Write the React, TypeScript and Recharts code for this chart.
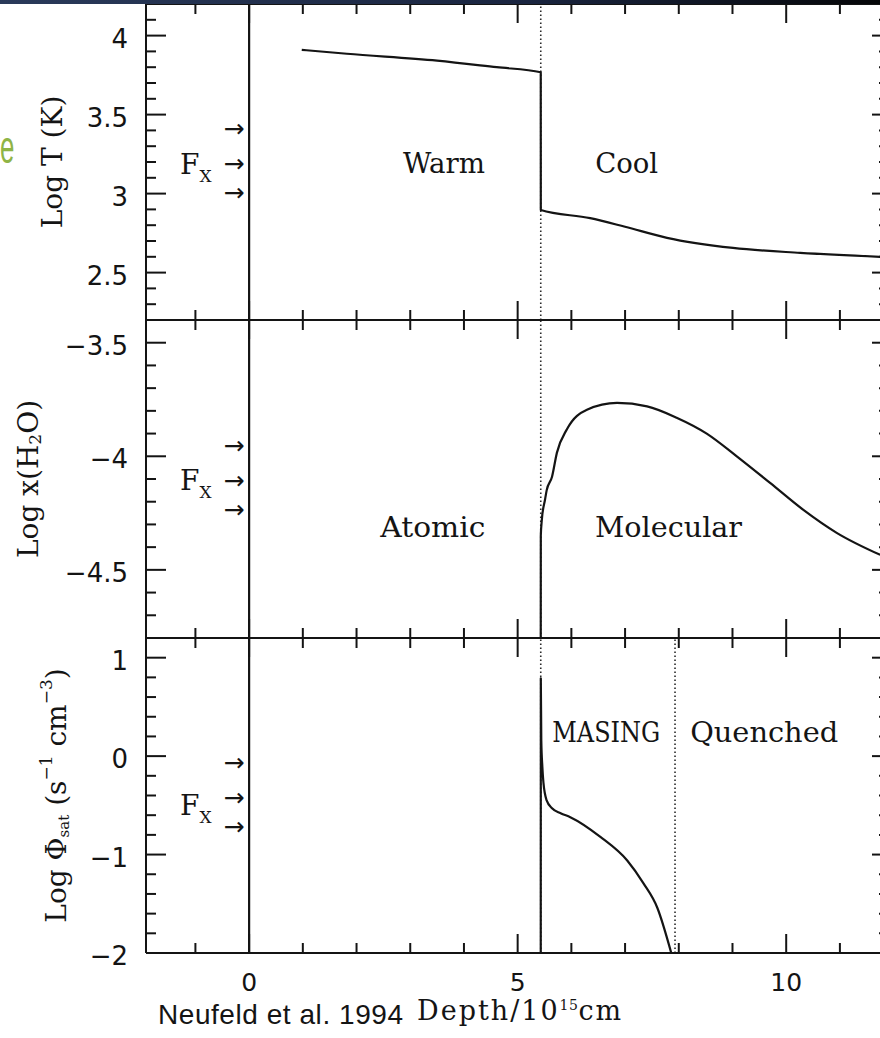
import { LineChart, Line, XAxis, YAxis, ReferenceLine, ReferenceDot } from 'recharts';

// depth axis, units of 1e15 cm
const depthTicks = [-1, 0, 1, 2, 3, 4, 5, 6, 7, 8, 9, 10, 11];
const depthMajor = [0, 5, 10];

const tempTicks = [2.3, 2.4, 2.5, 2.6, 2.7, 2.8, 2.9, 3, 3.1, 3.2, 3.3, 3.4, 3.5, 3.6, 3.7, 3.8, 3.9, 4, 4.1];
const tempMajor = [2.5, 3, 3.5, 4];
const waterTicks = [-4.7, -4.6, -4.5, -4.4, -4.3, -4.2, -4.1, -4, -3.9, -3.8, -3.7, -3.6, -3.5];
const waterMajor = [-4.5, -4, -3.5];
const phiTicks = [-2, -1.8, -1.6, -1.4, -1.2, -1, -0.8, -0.6, -0.4, -0.2, 0, 0.2, 0.4, 0.6, 0.8, 1];
const phiMajor = [-2, -1, 0, 1];

// Log T (K) -- jump at the front (5.43)
const tempDepth = [0.98, 1.82, 3.5, 4.61, 5.43, 5.431, 6.35, 7.0, 7.78, 9.01, 10.26, 11.75];
const tempLogT = [3.91, 3.885, 3.842, 3.8, 3.768, 2.896, 2.845, 2.79, 2.72, 2.656, 2.625, 2.6];

// Log x(H2O)
const waterDepth = [5.43, 5.431, 5.45, 5.51, 5.54, 5.64, 5.73, 5.92, 6.29, 6.85, 7.41, 7.96, 8.52, 9.08, 9.7, 10.32, 10.94, 11.75];
const waterLogX = [-4.8, -4.35, -4.28, -4.19, -4.15, -4.09, -3.985, -3.88, -3.795, -3.765, -3.78, -3.83, -3.9, -4.0, -4.117, -4.236, -4.337, -4.434];

// Log Phi_sat
const phiDepth = [5.43, 5.431, 5.44, 5.46, 5.48, 5.54, 5.64, 5.8, 5.98, 6.54, 7.04, 7.34, 7.6, 7.86];
const phiLog = [-2, 0.79, 0.16, -0.11, -0.27, -0.45, -0.53, -0.58, -0.62, -0.82, -1.06, -1.29, -1.54, -2];

const zip = (xs: number[], ys: number[]) => xs.map((x, i) => ({ x, y: ys[i] }));

const INK = '#141414';
const W = 893;
const H = 1038;
const xDomain: [number, number] = [-1.92, 11.97];
const SERIF = 'DejaVu Serif';

const near = (list: number[], v: number) => list.some((m) => Math.abs(m - v) < 1e-6);
const fmt = (v: number) => (v < 0 ? '\u2212' + Math.abs(v) : String(v));

const xTick = (dir: number, labels: boolean) => (p: any) => {
  const v = p.payload.value;
  const major = near(depthMajor, v);
  return (
    <g>
      <line x1={p.x} x2={p.x} y1={p.y} y2={p.y + dir * (major ? 19 : 10)} stroke={INK} strokeWidth={2} />
      {labels && major && (
        <text x={p.x} y={p.y + 38} textAnchor="middle" fontFamily="DejaVu Sans" fontSize={25} fill={INK}>
          {fmt(v)}
        </text>
      )}
    </g>
  );
};

const yTick = (majors: number[], left: boolean) => (p: any) => {
  const v = p.payload.value;
  const major = near(majors, v);
  const len = major ? 20 : left ? 10 : 13;
  return (
    <g>
      <line x1={p.x} x2={p.x + (left ? len : -len)} y1={p.y} y2={p.y} stroke={INK} strokeWidth={2} />
      {left && major && (
        <text x={p.x - 18} y={p.y + 12} textAnchor="end" fontFamily="DejaVu Sans" fontSize={26} fill={INK}>
          {fmt(v)}
        </text>
      )}
    </g>
  );
};

const yTitle = (dx: number, body: any) => (lp: any) => {
  const vb = lp.viewBox;
  const cx = vb.x + vb.width - dx;
  const cy = vb.y + vb.height / 2;
  return (
    <text x={cx} y={cy} transform={`rotate(-90 ${cx} ${cy})`} textAnchor="middle" dominantBaseline="central"
      fontFamily={SERIF} fontSize={28} fill={INK}>
      {body}
    </text>
  );
};

const regionLabel = (text: string, width: number) => (p: any) => (
  <text x={p.cx} y={p.cy} textAnchor="middle" fontFamily={SERIF} fontSize={28} fill={INK}
    textLength={width} lengthAdjust="spacingAndGlyphs">
    {text}
  </text>
);

const fluxMark = (fDrop: number) => (p: any) => (
  <g fill={INK}>
    {[-35, 0, 29].map((d) => (
      <text key={d} x={p.cx} y={p.cy + d} textAnchor="middle" dominantBaseline="central" fontFamily="DejaVu Sans" fontSize={25}>
        {'\u2192'}
      </text>
    ))}
    <text x={p.cx - 54} y={p.cy + fDrop} fontFamily={SERIF} fontSize={28}>
      F<tspan fontSize={17} dy={8}>X</tspan>
    </text>
  </g>
);

const dotted = { stroke: '#2a2a2a', strokeWidth: 1.6, strokeDasharray: '1.5 2.5' };

// axes get 1px of room (0 would stop recharts drawing them), margins absorb it
function panel(
  top: number,
  bottom: number,
  yDomain: [number, number],
  yTicks: number[],
  yMajor: number[],
  data: { x: number; y: number }[],
  title: any,
  titleDx: number,
  bottomLabels: boolean,
  extras: any[],
  xLabel?: any
) {
  return (
    <LineChart width={W} height={H} margin={{ top: top - 1, bottom: H - bottom - 1, left: 145, right: 0 }}>
      <XAxis dataKey="x" type="number" domain={xDomain} allowDataOverflow ticks={depthTicks} interval={0}
        height={1} tickSize={0} tickMargin={0} tickLine={false}
        axisLine={{ stroke: INK, strokeWidth: 2 }} tick={xTick(-1, bottomLabels)} label={xLabel} />
      <XAxis xAxisId="top" orientation="top" dataKey="x" type="number" domain={xDomain} allowDataOverflow ticks={depthTicks}
        interval={0} height={1} tickSize={0} tickMargin={0} tickLine={false}
        axisLine={{ stroke: INK, strokeWidth: 2 }} tick={xTick(1, false)} />
      <YAxis type="number" domain={yDomain} allowDataOverflow ticks={yTicks} interval={0} width={1}
        tickSize={0} tickMargin={0} tickLine={false} axisLine={{ stroke: INK, strokeWidth: 2 }}
        tick={yTick(yMajor, true)} label={{ content: yTitle(titleDx, title) }} />
      <YAxis yAxisId="right" orientation="right" type="number" domain={yDomain} allowDataOverflow ticks={yTicks}
        interval={0} width={1} tickSize={0} tickMargin={0} tickLine={false} axisLine={false}
        tick={yTick(yMajor, false)} />
      <ReferenceLine x={0} stroke={INK} strokeWidth={2.2} />
      <ReferenceLine x={5.43} {...dotted} />
      {extras}
      <Line data={data} dataKey="y" type="monotone" stroke={INK} strokeWidth={2.2} dot={false}
        strokeLinejoin="round" isAnimationActive={false} />
    </LineChart>
  );
}

const depthLabel = (lp: any) => {
  const vb = lp.viewBox;
  return (
    <g fill={INK}>
      <text x={vb.x + 12} y={vb.y + 71} fontFamily="Liberation Sans" fontSize={28}
        textLength={245} lengthAdjust="spacing">
        Neufeld et al. 1994
      </text>
      <text x={vb.x + 271} y={vb.y + 67} fontFamily={SERIF} fontSize={27} letterSpacing={2}>
        Depth/10<tspan fontSize={14} dy={-10} letterSpacing={0.5}>15</tspan><tspan dy={10}>cm</tspan>
      </text>
    </g>
  );
};

export default function App() {
  const layer = { position: 'absolute' as const, left: 0, top: 0 };
  return (
    <div style={{ position: 'relative', width: 880, height: 1038, overflow: 'hidden', background: '#fff' }}>
      <style>{'body{margin:0}'}</style>
      <div style={layer}>
        {panel(4, 320, [2.2, 4.2], tempTicks, tempMajor, zip(tempDepth, tempLogT),
          'Log T (K)', 94, false, [
            <ReferenceDot key="w" x={3.63} y={3.129} r={0} shape={regionLabel('Warm', 82)} />,
            <ReferenceDot key="c" x={7.03} y={3.129} r={0} shape={regionLabel('Cool', 63)} />,
            <ReferenceDot key="f" x={-0.28} y={3.19} r={0} shape={fluxMark(10)} />,
          ])}
      </div>
      <div style={layer}>
        {panel(320, 638, [-4.8, -3.4], waterTicks, waterMajor, zip(waterDepth, waterLogX),
          <>Log x(H<tspan fontSize={17} dy={7}>2</tspan><tspan dy={-7}>O)</tspan></>, 118, false, [
            <ReferenceDot key="a" x={3.42} y={-4.355} r={0} shape={regionLabel('Atomic', 105)} />,
            <ReferenceDot key="m" x={7.81} y={-4.355} r={0} shape={regionLabel('Molecular', 147)} />,
            <ReferenceDot key="f" x={-0.28} y={-4.105} r={0} shape={fluxMark(10)} />,
          ])}
      </div>
      <div style={layer}>
        {panel(638, 953, [-2, 1.2], phiTicks, phiMajor, zip(phiDepth, phiLog),
          <>Log Φ<tspan fontSize={15} dy={8}>sat</tspan><tspan dy={-8}>{'\u00a0'}(s</tspan>
            <tspan fontSize={17} dy={-10}>−1</tspan><tspan dy={10}>{'\u00a0'}cm</tspan>
            <tspan fontSize={17} dy={-10}>−3</tspan><tspan dy={10}>)</tspan></>, 90, true, [
            <ReferenceLine key="q" x={7.93} {...dotted} />,
            <ReferenceDot key="ms" x={6.65} y={0.143} r={0} shape={regionLabel('MASING', 108)} />,
            <ReferenceDot key="qn" x={9.59} y={0.143} r={0} shape={regionLabel('Quenched', 148)} />,
            <ReferenceDot key="f" x={-0.28} y={-0.416} r={0} shape={fluxMark(18)} />,
          ], { content: depthLabel })}
      </div>
      <div style={{ position: 'absolute', left: 0, top: 0, width: 880, height: 4, background: 'linear-gradient(90deg,#2a3a5a,#1a2540 60%,#050608)' }} />
      <svg width={40} height={60} style={{ position: 'absolute', left: 0, top: 118 }}>
        <text x={0} y={45} transform="scale(0.55 1)" fontFamily="Liberation Sans" fontSize={47} fill="#8fb446">e</text>
      </svg>
    </div>
  );
}
